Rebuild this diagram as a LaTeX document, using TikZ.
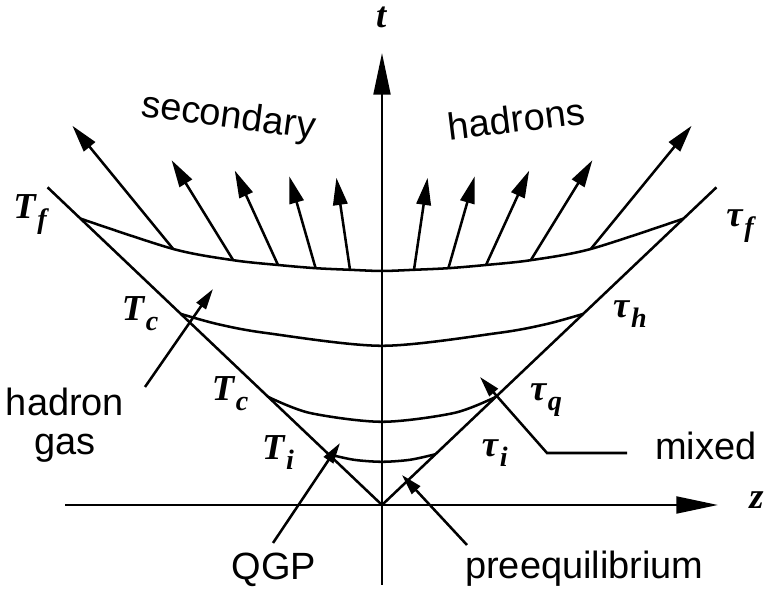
\documentclass[tikz,border=0pt]{standalone}
\usepackage{fontspec}
\setmainfont{Liberation Sans}
\newfontfamily\symfont{Liberation Serif}
\usetikzlibrary{arrows.meta}

% bold italic symbol with a lowered index
\newcommand{\lbl}[2]{{\symfont\bfseries\itshape\fontsize{13}{15}\selectfont #1\kern0.6pt\raisebox{-0.6ex}{\fontsize{10}{12}\selectfont #2}}}

\begin{document}
\begin{tikzpicture}[
  line/.style={line width=0.9pt},
  axis/.style={line width=0.9pt, -{Triangle[length=5.2mm, width=2.1mm]}},
  hadr/.style={line width=0.9pt, -{Triangle[length=3.4mm, width=1.8mm]}},
  ptr/.style={line width=0.9pt, -{Triangle[length=2.6mm, width=1.4mm]}},
  txt/.style={font=\fontsize{13.5}{14.2}\selectfont, inner sep=0pt},
  sym/.style={inner sep=0pt}
]
  \useasboundingbox (-4.775,-1.0875) rectangle (4.8125,6.3125);

  % axes
  \coordinate (o) at (0,0);
  \coordinate (zl) at (-3.96,0);
  \coordinate (zr) at (4.2,0);
  \coordinate (tb) at (0,-1.0);
  \coordinate (tt) at (0,5.65);
  \draw[axis] (zl) -- (zr);
  \draw[axis] (tb) -- (tt);
  \node[sym] (zlab) at (4.69,0) {\lbl{z}{}};
  \node[sym] (tlab) at (0,6.04) {\lbl{t}{}};

  % light cone
  \coordinate (cl) at (-4.18,3.97);
  \coordinate (cr) at (4.18,3.97);
  \draw[line] (cl) -- (o) -- (cr);

  % secondary hadrons
  \foreach \x/\y/\tx/\ty [count=\i] in {0.40/2.94/0.57/4.09, 0.83/2.96/1.16/4.11,
      1.30/3.00/1.84/4.18, 1.86/3.06/2.63/4.31, 2.61/3.20/3.87/4.74} {
    \coordinate (r\i) at (\x,\y);
    \coordinate (rt\i) at (\tx,\ty);
    \coordinate (l\i) at (-\x,\y);
    \coordinate (lt\i) at (-\tx,\ty);
    \draw[hadr] (r\i) -- (rt\i);
    \draw[hadr] (l\i) -- (lt\i);
  }

  % proper time curves
  \draw[line] plot[smooth] coordinates {(-0.67,0.635) (-0.35,0.565) (0,0.54) (0.35,0.565) (0.67,0.635)};
  \draw[line] plot[smooth] coordinates {(-1.42,1.35) (-0.9,1.15) (0,1.04) (0.9,1.15) (1.42,1.35)};
  \draw[line] plot[smooth] coordinates {(-2.52,2.39) (-2.05,2.26) (-1.45,2.15) (0,1.99)
      (1.45,2.15) (2.05,2.26) (2.52,2.39)};
  \draw[line] plot[smooth] coordinates {(-3.77,3.58) (l5) (l4) (l3) (l2) (l1) (0,2.925)
      (r1) (r2) (r3) (r4) (r5) (3.77,3.58)};

  % curve labels
  \node[sym] (Tf) at (-4.4,3.625) {\lbl{T}{f}};
  \node[sym] (Tc) at (-3.025,2.39) {\lbl{T}{c}};
  \node[sym] (Tcc) at (-1.9,1.39) {\lbl{T}{c}};
  \node[sym] (Ti) at (-1.3,0.66) {\lbl{T}{i}};
  \node[sym] (taui) at (1.41,0.65) {\lbl{τ}{i}};
  \node[sym] (tauq) at (2.05,1.31) {\lbl{τ}{q}};
  \node[sym] (tauh) at (3.1,2.39) {\lbl{τ}{h}};
  \node[sym] (tauf) at (4.475,3.49) {\lbl{τ}{f}};

  % region names
  \node[txt, rotate=-7.5] (sec) at (-1.92,4.84) {secondary};
  \node[txt, rotate=7] (had) at (1.68,4.83) {hadrons};
  \node[txt, align=center, anchor=north] (gas) at (-3.9625,1.475) {hadron\\gas};
  \node[txt, anchor=base] (qgp) at (-1.35,-0.93) {QGP};
  \node[txt, anchor=base] (pre) at (2.53,-0.915) {preequilibrium};
  \node[txt, anchor=base west] (mix) at (3.41,0.5625) {mixed};

  % pointers
  \coordinate (gasA) at (-2.9625,1.475);
  \coordinate (gasB) at (-2.1125,2.7);
  \coordinate (qgpA) at (-1.3625,-0.475);
  \coordinate (qgpB) at (-0.525,0.775);
  \coordinate (preA) at (1.0625,-0.5);
  \coordinate (preB) at (0.25,0.375);
  \coordinate (mixA) at (3.0625,0.65);
  \coordinate (mixK) at (2.0625,0.65);
  \coordinate (mixB) at (1.225,1.6);
  \draw[ptr] (gasA) -- (gasB);
  \draw[ptr] (qgpA) -- (qgpB);
  \draw[ptr] (preA) -- (preB);
  \draw[ptr] (mixA) -- (mixK) -- (mixB);
\end{tikzpicture}
\end{document}
